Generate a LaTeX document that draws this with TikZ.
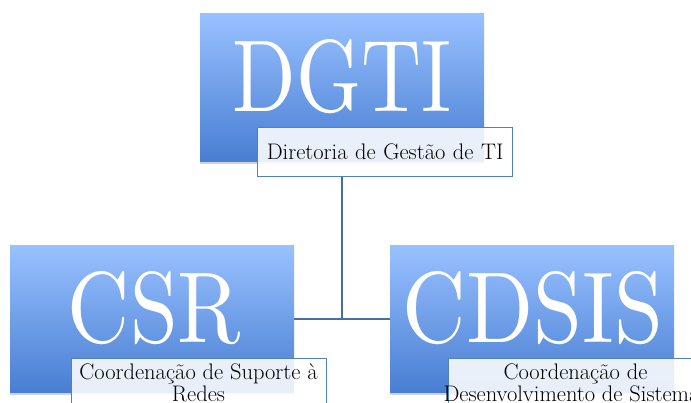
\documentclass[tikz,border=0pt]{standalone}
\usetikzlibrary{shadows,backgrounds,calc}
\definecolor{boxtop}{RGB}{153,193,255}
\definecolor{boxbot}{RGB}{72,126,210}
\definecolor{lblborder}{RGB}{79,129,189}
\definecolor{linecol}{RGB}{70,110,170}
\tikzset{
  bluebox/.style={rectangle, inner sep=0pt, top color=boxtop, bottom color=boxbot, draw=none,
    minimum width=284pt, minimum height=147pt, anchor=north west,
    drop shadow={shadow xshift=0pt, shadow yshift=-3pt, opacity=0.18, fill=black}},
  bigtext/.style={inner sep=0pt, text=white, anchor=base},
  lblbox/.style={rectangle, inner sep=0pt, draw=lblborder, line width=1.3pt, fill=white, fill opacity=0.88, text opacity=1,
    minimum width=255pt, minimum height=49pt, anchor=north west, font=\fontsize{22.5}{22.5}\selectfont, align=center, text width=250pt},
  lbltext/.style={anchor=base, font=\fontsize{22.5}{22.5}\selectfont, align=center, inner sep=0pt},
  conn/.style={draw=linecol, line width=2pt}
}
\begin{document}
\begin{tikzpicture}[x=1pt,y=-1pt]
\useasboundingbox (0,0) rectangle (691,403);
\clip (0,0) rectangle (691,403);
\node[bluebox, minimum height=148pt] (dgti) at (200,13) {};
\node[bluebox] (csr) at (10,245) {};
\node[bluebox] (cdsis) at (390,245) {};
\node[lblbox] (dgtilbl) at (257,127) {Diretoria de Gestão de TI};
% big texts
\node[bigtext] (dgtit) at (342.5,112) {\resizebox{219pt}{72pt}{DGTI}};
\node[bigtext] (csrt) at (154.5,343) {\resizebox{173pt}{71pt}{CSR}};
\node[bigtext] (cdsist) at (533,343) {\resizebox{260pt}{71pt}{CDSIS}};
% bottom labels
\node[lblbox] (csrlbl) at (71,358) {};
\node[lbltext] (csrlt) at ($(csrlbl.north west)+(127.5,44)$) {Coordenação de Suporte à\\Redes};
\node[lblbox] (cdsislbl) at (448,358) {};
\node[lbltext] (cdsislt) at ($(cdsislbl.north west)+(127.5,44)$) {Coordenação de\\Desenvolvimento de Sistemas};
% connectors
\begin{scope}[on background layer]
\draw[conn] (dgtilbl.south -| dgti.center) -- (csr.east -| dgti.center);
\draw[conn] (csr.east) -- (cdsis.west);
\end{scope}
\end{tikzpicture}
\end{document}
